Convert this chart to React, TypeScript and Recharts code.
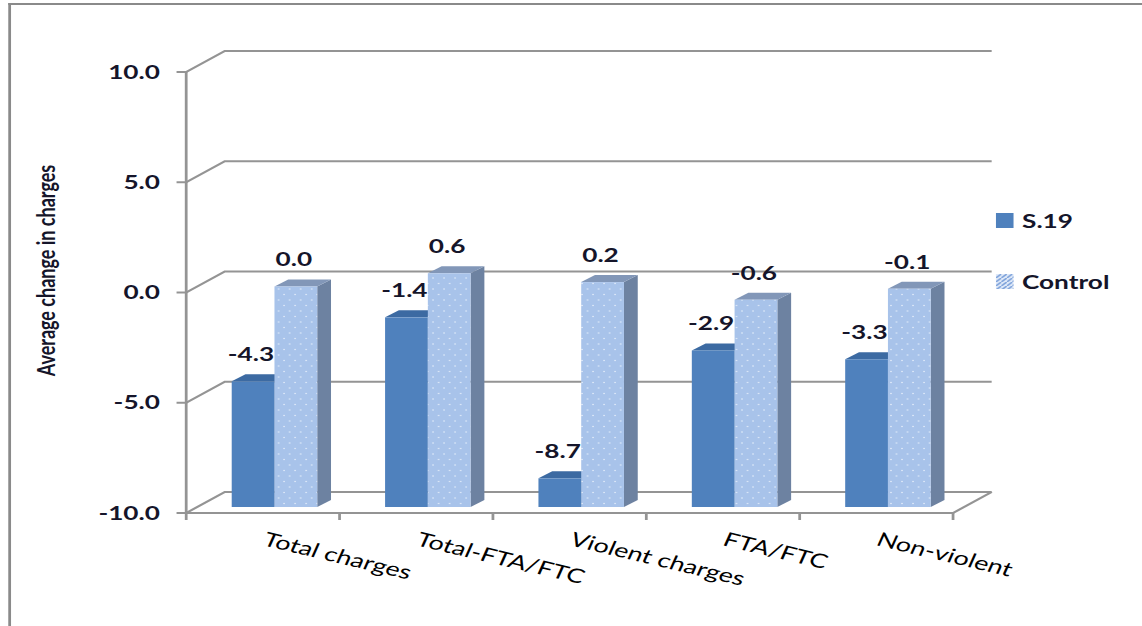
import React from "react";
import { BarChart, Bar, XAxis, YAxis, CartesianGrid, Legend, LabelList } from "recharts";

const CATEGORIES = ["Total charges", "Total-FTA/FTC", "Violent charges", "FTA/FTC", "Non-violent"];
const S19 = [-4.3, -1.4, -8.7, -2.9, -3.3];
const CONTROL = [0.0, 0.6, 0.2, -0.6, -0.1];
const Y_TICKS = [-10, -5, 0, 5, 10];
const SERIES = ["S.19", "Control"];

const data = CATEGORIES.map((name, i) => ({ name, s19: S19[i], control: CONTROL[i] }));

// the source picture is stretched sideways, so draw narrow and scale in x
const W = 828;
const H = 626;
const STRETCH = 1142 / W;
const FLOOR = Y_TICKS[0];

const Y_AXIS_W = 135;
const MARGIN = { top: 72, right: 137, bottom: 0, left: 0 };
const X_AXIS_H = 113;
const PLOT_W = W - Y_AXIS_W - MARGIN.right;

// fake 3d offsets
const WALL_DX = 28;
const WALL_DY = -21;
const BAR_DX = 8;
const BAR_DY = -6;
const SIDE_DX = 10;
const SIDE_DY = -7;

const FONT = "Lato, 'Open Sans', sans-serif";
const INK = "#15152a";
const GRID = "#949494";

const S19_COLORS = { front: "#4F81BD", top: "#3C6AA2", side: "#34608f" };
const CTRL_COLORS = { front: "#A8C3EA", top: "#8297B8", side: "#6D82A1" };

const make3DBar = (c: { front: string; top: string; side: string }, dotted: boolean) => (props: any) => {
  const { x, y, width, height } = props;
  if (width == null || height == null || isNaN(y)) return <g />;
  const fx = x + BAR_DX;
  const fy = y + BAR_DY;
  const r = fx + width;
  return (
    <g>
      <polygon
        points={`${r},${fy} ${r + SIDE_DX},${fy + SIDE_DY} ${r + SIDE_DX},${fy + height + SIDE_DY} ${r},${fy + height}`}
        fill={c.side}
      />
      <polygon
        points={`${fx},${fy} ${fx + SIDE_DX},${fy + SIDE_DY} ${r + SIDE_DX},${fy + SIDE_DY} ${r},${fy}`}
        fill={c.top}
      />
      <rect x={fx} y={fy} width={width} height={height} fill={dotted ? "url(#ctrlDots)" : c.front} />
    </g>
  );
};

const renderValueLabel = (p: any) => {
  const vb = p.viewBox && p.viewBox.width != null ? p.viewBox : p;
  if (vb.x == null) return null;
  const cx = vb.x + BAR_DX + vb.width / 2 - 1.5;
  const ty = vb.y + BAR_DY - 20;
  return (
    <text x={cx} y={ty} textAnchor="middle" fontFamily={FONT} fontWeight={700} fontSize={19} fill={INK}>
      {Number(p.value).toFixed(1)}
    </text>
  );
};

const wallLine = (p: any) => {
  const { x1, x2, y1 } = p;
  return (
    <polyline
      key={p.key ?? p.index}
      points={`${x1},${y1} ${x1 + WALL_DX},${y1 + WALL_DY} ${x2 + WALL_DX},${y1 + WALL_DY}`}
      fill="none"
      stroke={GRID}
      strokeWidth={2}
    />
  );
};

const CategoryTick = (props: any) => {
  const { x, y, payload, index } = props;
  const half = payload.offset ?? PLOT_W / CATEGORIES.length / 2;
  const last = index === CATEGORIES.length - 1;
  const tx = x - 1;
  const ty = y + 32;
  return (
    <g>
      <line x1={x - half} y1={y} x2={x - half} y2={y + 7} stroke={GRID} strokeWidth={2} />
      {last && (
        <>
          <line x1={x + half} y1={y} x2={x + half} y2={y + 7} stroke={GRID} strokeWidth={2} />
          <line x1={x + half} y1={y} x2={x + half + WALL_DX} y2={y + WALL_DY} stroke={GRID} strokeWidth={2} />
        </>
      )}
      <text x={tx} y={ty} transform={`rotate(18 ${tx} ${ty})`} textAnchor="start" fontFamily={FONT} fontSize={19.5} fill="#000">
        {payload.value}
      </text>
    </g>
  );
};

const renderAxisTitle = (p: any) => {
  const vb = p.viewBox || { x: 0, y: MARGIN.top, height: H - MARGIN.top - X_AXIS_H };
  const cx = vb.x + 33;
  const cy = vb.y + vb.height / 2 - 22;
  return (
    <text
      x={cx}
      y={cy}
      transform={`rotate(-90 ${cx} ${cy})`}
      textAnchor="middle"
      dominantBaseline="central"
      fontFamily={FONT}
      fontWeight={700}
      fontSize={18}
      fill={INK}
    >
      Average change in charges
    </text>
  );
};

const renderLegend = () => (
  <div style={{ fontFamily: FONT, fontWeight: 700, fontSize: 19, color: INK }}>
    {SERIES.map((name, i) => (
      <div key={name} style={{ display: "flex", alignItems: "center", height: 22, marginBottom: i === 0 ? 39 : 0 }}>
        <svg width={13} height={15} style={{ display: "block" }}>
          {i === 0 ? (
            <rect x={0} y={0} width={13} height={15} fill={S19_COLORS.front} />
          ) : (
            <rect x={0} y={0} width={13} height={15} fill="url(#legendHatch)" />
          )}
        </svg>
        <span style={{ marginLeft: 6 }}>{name}</span>
      </div>
    ))}
  </div>
);

export default function App() {
  return (
    <div style={{ position: "relative", width: 1142, height: 626, overflow: "hidden", background: "#fff" }}>
      <style>{`html,body{margin:0;padding:0;overflow:hidden;background:#fff}`}</style>
      <div
        style={{
          position: "absolute",
          left: 0,
          top: 0,
          width: W,
          height: H,
          transform: `scaleX(${STRETCH})`,
          transformOrigin: "0 0",
        }}
      >
        <div
          style={{
            position: "absolute",
            left: 6,
            top: 3,
            width: W,
            height: H,
            borderLeft: "2px solid #8a8a8a",
            borderTop: "2px solid #8a8a8a",
          }}
        />
        <BarChart width={W} height={H} data={data} margin={MARGIN} barSize={31} barGap={0}>
          <defs>
            <pattern id="ctrlDots" width={8} height={11} patternUnits="userSpaceOnUse">
              <rect width={8} height={11} fill={CTRL_COLORS.front} />
              <circle cx={2} cy={3} r={0.7} fill="#dce8f8" />
              <circle cx={6} cy={8.5} r={0.7} fill="#dce8f8" />
            </pattern>
            <pattern id="legendHatch" width={4} height={4} patternUnits="userSpaceOnUse">
              <rect width={4} height={4} fill="#dfe9f8" />
              <path d="M0,4 L4,0" stroke="#7fa3db" strokeWidth={1.4} />
            </pattern>
          </defs>
          <CartesianGrid vertical={false} horizontal={wallLine} />
          <XAxis
            dataKey="name"
            height={X_AXIS_H}
            axisLine={{ stroke: GRID, strokeWidth: 2 }}
            tickLine={false}
            tickSize={0}
            tickMargin={0}
            interval={0}
            tick={<CategoryTick />}
          />
          <YAxis
            type="number"
            domain={[Y_TICKS[0], Y_TICKS[Y_TICKS.length - 1]]}
            ticks={Y_TICKS}
            width={Y_AXIS_W}
            axisLine={{ stroke: GRID, strokeWidth: 2 }}
            tickLine={{ stroke: GRID, strokeWidth: 2 }}
            tickSize={7}
            tickMargin={12}
            tickFormatter={(v: number) => v.toFixed(1)}
            tick={{ fontFamily: FONT, fontWeight: 700, fontSize: 19, fill: INK }}
            label={renderAxisTitle}
          />
          <Legend
            layout="vertical"
            align="center"
            verticalAlign="middle"
            content={renderLegend}
            wrapperStyle={{ position: "absolute", left: 722, top: 209, width: 100 }}
          />
          <Bar
            name={SERIES[0]}
            dataKey={(d: any) => [FLOOR, d.s19]}
            shape={make3DBar(S19_COLORS, false)}
            isAnimationActive={false}
          >
            <LabelList dataKey="s19" content={renderValueLabel} />
          </Bar>
          <Bar
            name={SERIES[1]}
            dataKey={(d: any) => [FLOOR, d.control]}
            shape={make3DBar(CTRL_COLORS, true)}
            isAnimationActive={false}
          >
            <LabelList dataKey="control" content={renderValueLabel} />
          </Bar>
        </BarChart>
      </div>
    </div>
  );
}
